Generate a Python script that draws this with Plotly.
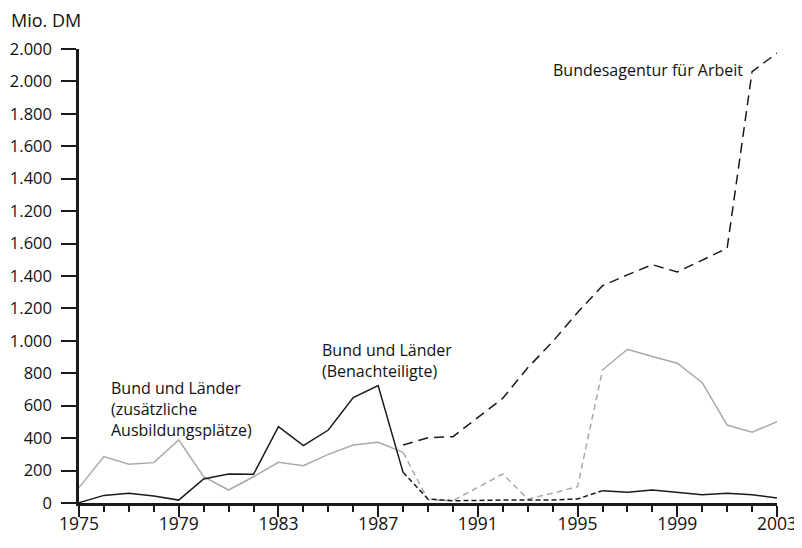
import plotly.graph_objects as go

# ---------------------------------------------------------------------------
# Data (in axis units)
# ---------------------------------------------------------------------------
years = list(range(1975, 2004))

# Bund und Länder (zusätzliche Ausbildungsplätze), 1975-2003
zusaetzlich = [95, 286, 239, 249, 389, 162, 80, 162, 251, 230, 300, 358, 374, 312,
               20, 14, 97, 179, 25, 60, 101, 820, 948, 903, 862, 742, 481, 436, 502]

# Bund und Länder (Benachteiligte), 1975-2003
benachteiligte = [2, 47, 60, 43, 18, 148, 179, 177, 471, 354, 450, 650, 724, 189,
                  25, 14, 18, 18, 18, 19, 25, 76, 66, 80, 66, 51, 60, 51, 31]

# Bundesagentur für Arbeit, 1988-2003
ba_years = list(range(1988, 2004))
bundesagentur = [358, 402, 409, 529, 646, 834, 995, 1175, 1340, 1407, 1470, 1425,
                 1499, 1571, 2660, 2775]

# the two Bund/Länder series are dashed between these years
dash_from, dash_to = 1988, 1996

y_tickvals = list(range(0, 2801, 200))
y_ticktext = ["0", "200", "400", "600", "800", "1.000", "1.200", "1.400", "1.600",
              "1.200", "1.400", "1.600", "1.800", "2.000", "2.000"]
x_tickvals = list(range(1975, 2004, 4))

FONT = "Open Sans, Noto Sans, sans-serif"
GRAY = "#a9a9a9"
BLACK = "#1a1a1a"

# =============================================================================
# Figure
# =============================================================================
fig = go.Figure()


def add_split(values, color, dash):
    i0 = years.index(dash_from)
    i1 = years.index(dash_to)
    parts = [(0, i0 + 1, "solid"), (i0, i1 + 1, dash), (i1, len(years), "solid")]
    for a, b, d in parts:
        fig.add_trace(go.Scatter(
            x=years[a:b], y=values[a:b], mode="lines",
            line=dict(color=color, width=1.5, dash=d),
            hoverinfo="skip", showlegend=False, cliponaxis=False,
        ))


add_split(zusaetzlich, GRAY, "6px,4px")
add_split(benachteiligte, BLACK, "5px,3px")

fig.add_trace(go.Scatter(
    x=ba_years, y=bundesagentur, mode="lines",
    line=dict(color=BLACK, width=1.5, dash="10px,6px"),
    hoverinfo="skip", showlegend=False, cliponaxis=False,
))

labels = [
    dict(x=1976.2, y=790, text="Bund und Länder<br>(zusätzliche<br>Ausbildungsplätze)"),
    dict(x=1984.67, y=1022, text="Bund und Länder<br>(Benachteiligte)"),
    dict(x=1993.92, y=2748, text="Bundesagentur für Arbeit"),
]
for lb in labels:
    fig.add_annotation(x=lb["x"], y=lb["y"], text=lb["text"], showarrow=False,
                       xanchor="left", yanchor="top", align="left",
                       font=dict(size=16, color="#111"))

fig.add_annotation(x=-0.099, y=1.064, xref="paper", yref="paper", xanchor="left", yanchor="middle",
                   text="Mio. DM", showarrow=False, borderpad=0, font=dict(size=18, color="#111"))

fig.update_xaxes(
    range=[1975, 2003], tickvals=x_tickvals, ticks="outside", ticklen=11, tickwidth=2,
    tickcolor=BLACK, showline=True, linecolor=BLACK, linewidth=2.5, showgrid=False,
    zeroline=False, tickfont=dict(size=17.5, color="#111"), ticklabelstandoff=-8,
    automargin=False,
    minor=dict(dtick=1, tick0=1975, ticks="outside", ticklen=6, tickwidth=2, tickcolor=BLACK),
)
fig.update_yaxes(
    range=[0, 2800], tickvals=y_tickvals, ticktext=y_ticktext, ticks="outside", ticklen=15,
    tickwidth=2, tickcolor=BLACK, showline=True, linecolor=BLACK, linewidth=2.5,
    showgrid=False, zeroline=False, tickfont=dict(size=16.5, color="#111"), ticklabelstandoff=6,
    automargin=False,
)

# the page adds an 8px body margin, so the plot area is placed 8px up/left
fig.update_layout(
    width=802, height=548,
    margin=dict(l=71, r=33, t=41, b=53),
    plot_bgcolor="white", paper_bgcolor="white",
    font=dict(family=FONT, color="#111"),
)

fig.write_html("out.html")
